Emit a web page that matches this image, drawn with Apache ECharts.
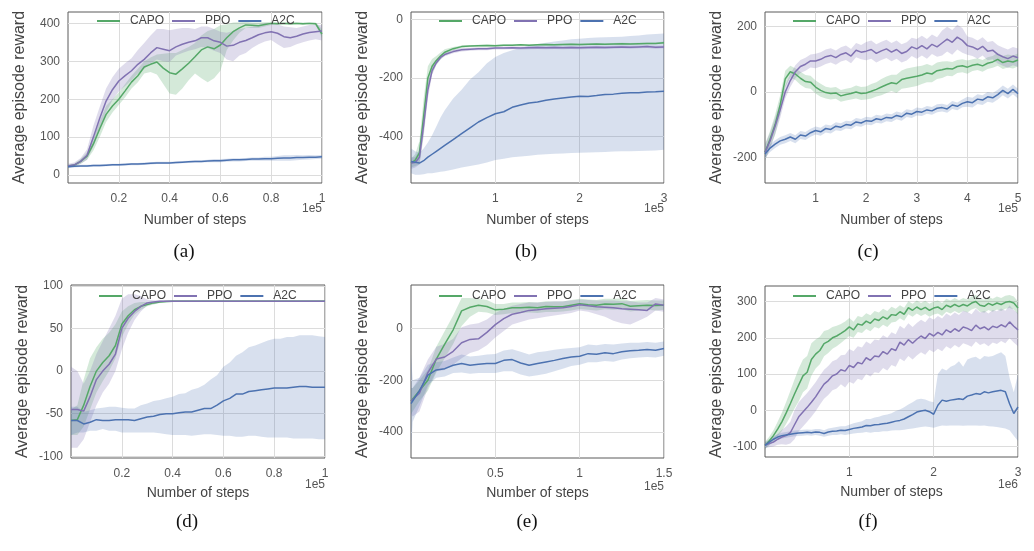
<!DOCTYPE html>
<html><head><meta charset="utf-8">
<script src="https://cdn.jsdelivr.net/npm/echarts@6/dist/echarts.min.js"></script>
<style>html,body{margin:0;padding:0;background:#fff}#c{width:1034px;height:551px}</style>
</head><body><div id="c"></div>
<script>
// ---------- DATA ----------
const seriesNames = ['CAPO', 'PPO', 'A2C'];
const panelCaptions = ['(a)', '(b)', '(c)', '(d)', '(e)', '(f)'];
const xOffsetLabels = ['1e5', '1e5', '1e5', '1e5', '1e5', '1e6'];

// Panel (a)
const stepsA = [0,0.025,0.05,0.075,0.1,0.125,0.15,0.175,0.2,0.225,0.25,0.275,0.3,0.325,0.35,0.375,0.4,0.425,0.45,0.475,0.5,0.525,0.55,0.575,0.6,0.625,0.65,0.675,0.7,0.725,0.75,0.775,0.8,0.825,0.85,0.875,0.9,0.925,0.95,0.975,1];
const capoA = [24,26,36,50,82,122,160,182,200,222,245,262,285,292,298,282,270,266,280,295,312,330,338,333,343,362,378,388,396,395,394,397,400,399,400,399,400,399,400,399,372];
const capoALo = [20,22,30,40,65,100,140,165,185,205,228,245,268,272,265,240,215,212,228,250,268,255,245,255,275,330,355,375,388,388,388,392,396,396,397,396,397,396,397,396,362];
const capoAHi = [28,30,42,60,100,142,182,200,218,240,262,280,300,310,318,320,322,322,330,338,348,368,380,385,395,398,402,403,404,402,402,403,404,403,403,402,403,402,403,402,385];
const ppoA = [24,27,36,52,100,150,195,225,248,262,275,292,305,322,336,332,328,338,345,350,354,362,362,354,350,340,342,350,355,362,370,375,378,374,365,362,366,372,376,378,380];
const ppoALo = [20,22,30,40,75,120,165,198,220,235,250,268,280,295,305,300,298,315,322,328,332,338,335,328,322,305,300,315,322,335,345,352,356,345,335,338,345,350,355,358,355];
const ppoAHi = [30,33,45,68,130,180,228,258,280,295,308,330,348,368,385,385,382,385,388,388,385,392,392,385,378,375,380,385,388,392,396,400,400,398,392,390,388,392,396,397,395];
const a2cA = [22,23,24,24,25,25,26,27,27,28,29,29,30,31,32,32,32,33,34,35,36,36,37,38,38,39,40,40,41,42,42,43,43,44,45,45,46,46,47,47,48];
const a2cALo = [19,20,21,21,22,22,23,24,24,25,26,26,27,28,29,29,29,30,31,32,33,33,34,34,34,35,36,36,37,38,38,38,38,38,38,38,39,40,41,42,43];
const a2cAHi = [25,26,27,27,28,28,29,30,30,31,32,32,33,34,35,35,35,36,37,38,39,39,40,42,42,43,44,44,45,46,46,48,48,50,52,52,53,52,53,52,53];

// Panel (b)
const stepsB = [0,0.05,0.1,0.15,0.2,0.25,0.3,0.35,0.4,0.5,0.6,0.7,0.8,0.9,1.0,1.1,1.2,1.3,1.4,1.5,1.6,1.7,1.8,1.9,2.0,2.1,2.2,2.3,2.4,2.5,2.6,2.7,2.8,2.9,3.0];
const capoB = [-490,-480,-455,-330,-200,-160,-140,-125,-112,-100,-93,-91,-90,-89,-90,-88,-88,-87,-88,-87,-86,-87,-86,-85,-86,-85,-84,-85,-84,-83,-84,-83,-82,-82,-80];
const capoBLo = [-505,-500,-495,-390,-240,-185,-155,-137,-122,-106,-97,-94,-93,-92,-93,-91,-91,-90,-91,-90,-89,-90,-89,-88,-89,-88,-87,-88,-87,-86,-87,-86,-85,-85,-84];
const capoBHi = [-475,-460,-415,-270,-160,-135,-125,-113,-102,-94,-89,-88,-87,-86,-87,-85,-85,-84,-85,-84,-83,-84,-83,-82,-83,-82,-81,-82,-81,-80,-81,-80,-79,-79,-76];
const ppoB = [-490,-488,-470,-360,-240,-175,-148,-130,-120,-110,-104,-102,-100,-100,-98,-98,-97,-98,-97,-96,-97,-96,-97,-96,-97,-96,-95,-96,-95,-94,-95,-94,-93,-95,-94];
const ppoBLo = [-510,-505,-495,-400,-270,-190,-156,-137,-126,-116,-110,-107,-105,-105,-103,-103,-102,-103,-102,-101,-102,-101,-102,-101,-102,-101,-100,-101,-100,-99,-100,-99,-98,-100,-99];
const ppoBHi = [-470,-470,-445,-320,-210,-160,-140,-123,-114,-104,-98,-97,-95,-95,-93,-93,-92,-93,-92,-91,-92,-91,-92,-91,-92,-91,-90,-91,-90,-89,-90,-89,-88,-90,-89];
const a2cB = [-485,-487,-490,-482,-470,-460,-450,-440,-430,-410,-390,-370,-350,-335,-322,-315,-300,-292,-285,-282,-276,-272,-268,-265,-262,-263,-260,-256,-255,-252,-250,-250,-248,-247,-245];
const a2cBLo = [-525,-530,-530,-528,-525,-525,-522,-520,-518,-512,-505,-500,-495,-488,-480,-475,-470,-468,-465,-462,-460,-458,-457,-456,-455,-454,-453,-452,-451,-450,-450,-449,-448,-447,-445];
const a2cBHi = [-440,-450,-455,-440,-420,-395,-365,-335,-310,-270,-240,-205,-180,-150,-128,-115,-105,-98,-90,-84,-80,-76,-72,-68,-66,-64,-62,-61,-60,-59,-57,-55,-52,-50,-48];

// Panel (c)
const stepsC = [0,0.1,0.2,0.3,0.4,0.5,0.6,0.7,0.8,0.9,1,1.1,1.2,1.3,1.4,1.5,1.6,1.7,1.8,1.9,2,2.1,2.2,2.3,2.4,2.5,2.6,2.7,2.8,2.9,3,3.1,3.2,3.3,3.4,3.5,3.6,3.7,3.8,3.9,4,4.1,4.2,4.3,4.4,4.5,4.6,4.7,4.8,4.9,5];
const capoC = [-185,-145,-100,-40,40,62,55,42,32,30,15,5,-2,-5,-3,-12,-8,-5,0,-5,-3,2,8,15,22,28,25,38,42,45,48,52,58,55,65,68,72,70,78,80,76,82,85,80,88,92,100,90,95,92,98];
const capoCLo = [-210,-170,-130,-70,15,44,37,22,12,10,-5,-15,-20,-23,-21,-30,-26,-23,-20,-25,-23,-20,-14,-10,-3,3,-3,10,12,15,18,24,30,30,40,43,50,48,58,60,56,64,67,62,70,74,80,70,75,72,78];
const capoCHi = [-160,-120,-70,-10,65,80,73,62,52,50,35,25,16,13,15,6,10,13,20,15,17,24,30,40,47,53,53,66,72,75,78,80,86,80,90,93,94,92,98,100,96,100,103,98,106,110,120,110,115,112,118];
const ppoC = [-185,-150,-105,-55,0,35,62,78,85,95,95,100,108,112,105,115,120,110,128,122,125,130,118,126,132,122,130,118,124,138,132,142,132,146,138,150,162,152,168,158,142,138,130,140,125,128,115,108,102,110,105];
const ppoCLo = [-210,-175,-130,-80,-20,15,42,58,65,75,73,78,86,90,83,93,98,88,106,100,97,102,90,98,104,94,102,90,96,110,102,112,102,116,108,112,124,114,130,120,114,110,102,112,97,100,87,80,74,82,77];
const ppoCHi = [-160,-125,-80,-30,20,55,82,98,105,115,117,122,130,134,127,137,142,132,150,144,153,158,146,154,160,150,158,146,152,166,162,172,162,176,168,188,200,190,206,196,170,166,158,168,153,156,143,136,130,138,133];
const a2cC = [-190,-172,-160,-150,-145,-138,-145,-132,-135,-125,-118,-122,-112,-115,-105,-108,-100,-102,-92,-95,-88,-90,-82,-85,-78,-80,-72,-76,-65,-68,-60,-62,-55,-58,-50,-48,-52,-40,-44,-35,-30,-33,-22,-25,-15,-18,-8,5,-5,8,-5];
const a2cCLo = [-202,-184,-172,-162,-157,-150,-157,-144,-147,-137,-130,-134,-124,-127,-117,-120,-112,-114,-104,-107,-100,-102,-94,-97,-90,-92,-84,-88,-77,-80,-72,-74,-67,-70,-62,-60,-64,-52,-56,-47,-45,-48,-37,-40,-30,-33,-23,-10,-20,-7,-20];
const a2cCHi = [-178,-160,-148,-138,-133,-126,-133,-120,-123,-113,-106,-110,-100,-103,-93,-96,-88,-90,-80,-83,-76,-78,-70,-73,-66,-68,-60,-64,-53,-56,-48,-50,-43,-46,-38,-36,-40,-28,-32,-23,-15,-18,-7,-10,0,-3,7,20,10,23,10];

// Panel (d)
const stepsD = [0,0.025,0.05,0.075,0.1,0.125,0.15,0.175,0.2,0.225,0.25,0.275,0.3,0.325,0.35,0.375,0.4,0.425,0.45,0.475,0.5,0.525,0.55,0.575,0.6,0.625,0.65,0.675,0.7,0.725,0.75,0.775,0.8,0.825,0.85,0.875,0.9,0.925,0.95,0.975,1];
const capoD = [-58,-57,-40,-18,0,10,18,30,55,65,72,76,78,80,81,81.5,82,82,82,82,82,82,82,82,82,82,82,82,82,82,82,82,82,82,82,82,82,82,82,82,82];
const capoDLo = [-75,-75,-65,-45,-25,-12,0,15,40,55,66,72,76,78,80,80.5,81,81,81,81,81,81,81,81,81,81,81,81,81,81,81,81,81,81,81,81,81,81,81,81,81];
const capoDHi = [-45,-40,-10,15,28,38,45,55,70,76,80,81,81,82,82,82.5,83,83,83,83,83,83,83,83,83,83,83,83,83,83,83,83,83,83,83,83,83,83,83,83,83];
const ppoD = [-45,-45,-47,-30,-10,0,8,20,50,62,70,76,80,81,82,82,82,82,82,82,82,82,82,82,82,82,82,82,82,82,82,82,82,82,82,82,82,82,82,82,82];
const ppoDLo = [-90,-90,-80,-60,-40,-25,-15,0,25,45,60,70,77,79,80.5,81,81,81,81,81,81,81,81,81,81,81,81,81,81,81,81,81,81,81,81,81,81,81,81,81,81];
const ppoDHi = [5,0,-15,0,20,35,50,65,85,90,90,88,84,83,83,83,83,83,83,83,83,83,83,83,83,83,83,83,83,83,83,83,83,83,83,83,83,83,83,83,83];
const a2cD = [-58,-58,-62,-60,-57,-58,-58,-57,-57,-57,-58,-56,-54,-53,-51,-50,-50,-49,-48,-48,-46,-44,-44,-40,-35,-32,-27,-27,-24,-23,-22,-21,-20,-20,-20,-19,-18,-18,-19,-19,-19];
const a2cDLo = [-75,-72,-72,-70,-70,-68,-70,-70,-72,-72,-72,-72,-72,-72,-73,-74,-75,-75,-75,-76,-75,-74,-74,-75,-76,-76,-77,-77,-76,-76,-77,-78,-78,-78,-78,-79,-79,-79,-79,-80,-80];
const a2cDHi = [-42,-42,-48,-46,-44,-43,-42,-42,-43,-44,-44,-40,-38,-35,-34,-32,-30,-27,-26,-22,-20,-16,-10,-5,5,10,18,22,28,30,33,36,38,38,40,40,42,42,42,41,40];

// Panel (e)
const stepsE = [0,0.01,0.05,0.1,0.15,0.2,0.25,0.3,0.35,0.4,0.45,0.5,0.55,0.6,0.65,0.7,0.75,0.8,0.85,0.9,0.95,1,1.05,1.1,1.15,1.2,1.25,1.3,1.35,1.4,1.45,1.5];
const capoE = [-280,-275,-240,-200,-118,-60,-5,68,82,90,85,72,74,80,80,82,80,85,84,84,90,96,92,90,95,94,96,86,88,90,89,90];
const capoELo = [-330,-320,-280,-240,-170,-115,-60,10,45,65,62,52,55,60,60,62,60,64,64,66,70,75,72,70,74,72,74,66,70,72,70,72];
const capoEHi = [-230,-230,-200,-160,-70,-10,50,118,118,115,110,95,95,100,100,102,100,105,104,104,110,115,112,110,115,115,116,106,108,110,108,108];
const ppoE = [-280,-285,-250,-170,-118,-110,-88,-55,-42,-40,-15,15,38,55,62,70,72,76,78,80,85,92,88,84,82,80,76,74,72,70,95,90];
const ppoELo = [-330,-340,-320,-230,-165,-160,-140,-115,-95,-85,-65,-35,-10,15,25,35,40,45,50,55,60,70,65,55,45,30,20,15,30,45,70,65];
const ppoEHi = [-230,-230,-190,-120,-70,-60,-40,5,15,20,35,60,75,88,95,100,100,102,105,105,108,112,110,108,108,108,105,105,100,100,118,112];
const a2cE = [-290,-280,-240,-180,-160,-155,-142,-135,-142,-138,-135,-135,-123,-120,-133,-142,-135,-129,-123,-116,-110,-107,-97,-99,-94,-97,-90,-86,-84,-81,-84,-77];
const a2cELo = [-470,-360,-300,-220,-190,-185,-172,-170,-175,-172,-172,-172,-165,-165,-178,-185,-180,-175,-165,-155,-145,-140,-130,-130,-125,-128,-120,-115,-112,-110,-112,-105];
const a2cEHi = [-100,-200,-190,-140,-130,-125,-112,-100,-108,-105,-100,-98,-85,-80,-90,-100,-92,-88,-82,-78,-75,-72,-62,-65,-60,-62,-58,-55,-55,-52,-55,-50];

// Panel (f)
const stepsF = [0,0.05,0.1,0.15,0.2,0.25,0.3,0.35,0.4,0.45,0.5,0.55,0.6,0.65,0.7,0.75,0.8,0.85,0.9,0.95,1,1.05,1.1,1.15,1.2,1.25,1.3,1.35,1.4,1.45,1.5,1.55,1.6,1.65,1.7,1.75,1.8,1.85,1.9,1.95,2,2.05,2.1,2.15,2.2,2.25,2.3,2.35,2.4,2.45,2.5,2.55,2.6,2.65,2.7,2.75,2.8,2.85,2.9,2.95,3];
const capoF = [-97,-85,-70,-52,-32,-8,18,45,70,95,105,140,155,165,184,190,200,205,212,220,230,222,238,235,246,240,252,248,258,252,264,262,272,265,283,276,285,278,284,276,282,285,278,290,285,292,286,292,288,296,300,290,287,295,290,296,292,298,300,296,282];
const capoFLo = [-107,-97,-85,-72,-57,-38,-17,5,25,50,60,95,115,127,149,158,170,177,186,195,205,200,216,213,224,218,230,226,236,230,242,244,254,247,265,258,267,260,266,258,264,267,260,272,267,274,268,274,270,278,282,272,269,277,272,278,274,280,282,278,264];
const capoFHi = [-87,-73,-55,-32,-7,22,53,85,115,140,150,185,195,203,219,222,230,233,238,245,255,244,260,257,268,262,274,270,280,274,286,280,290,283,301,294,303,296,302,294,300,303,296,308,303,310,304,310,306,314,318,308,305,313,308,314,310,316,318,314,300];
const ppoF = [-97,-92,-88,-80,-74,-70,-62,-40,-18,-5,8,22,37,55,72,82,95,100,112,108,124,118,132,128,145,138,150,148,162,155,170,165,188,180,195,185,196,205,198,212,205,215,208,222,215,225,218,230,226,220,235,225,230,222,232,228,236,230,244,232,222];
const ppoFLo = [-105,-102,-100,-95,-94,-95,-92,-80,-58,-45,-32,-18,-3,15,32,42,55,60,72,63,79,73,87,83,100,93,105,103,117,110,125,120,143,135,150,140,151,160,153,167,160,170,163,177,170,180,173,185,181,175,190,180,185,177,187,183,191,185,199,187,177];
const ppoFHi = [-89,-82,-76,-65,-54,-45,-32,0,22,35,48,62,77,95,112,122,135,140,152,153,169,163,177,173,190,183,195,193,207,200,215,210,233,225,240,230,241,250,243,257,250,260,253,267,260,270,263,275,271,265,280,270,275,267,277,273,281,275,289,277,267];
const a2cF = [-97,-88,-80,-74,-70,-68,-66,-64,-63,-62,-61,-62,-60,-61,-64,-60,-58,-57,-55,-56,-53,-50,-48,-46,-42,-43,-40,-39,-37,-36,-33,-30,-28,-24,-18,-12,-5,-2,0,-4,-11,14,28,25,28,30,32,30,39,42,46,44,51,48,51,53,55,51,18,-9,9];
const a2cFLo = [-105,-96,-88,-82,-78,-76,-74,-72,-71,-70,-69,-70,-68,-70,-73,-70,-68,-68,-66,-68,-66,-64,-63,-62,-60,-62,-60,-60,-58,-58,-56,-55,-55,-54,-52,-50,-48,-46,-45,-46,-48,-45,-42,-43,-42,-42,-42,-43,-42,-42,-42,-43,-42,-44,-45,-46,-48,-50,-55,-70,-85];
const a2cFHi = [-89,-80,-72,-66,-62,-60,-58,-56,-55,-54,-53,-54,-52,-52,-55,-50,-48,-46,-44,-44,-40,-36,-33,-30,-24,-24,-20,-18,-14,-12,-8,-2,2,8,16,22,30,32,30,25,22,100,115,110,120,125,135,120,140,145,148,140,150,148,150,155,160,150,90,50,100];

// Tick values
const xTicksA = [0.2,0.4,0.6,0.8,1];
const xTicksB = [1,2,3];
const xTicksC = [1,2,3,4,5];
const xTicksD = [0.2,0.4,0.6,0.8,1];
const xTicksE = [0.5,1,1.5];
const xTicksF = [1,2,3];
const yTicksA = [0,100,200,300,400];
const yTicksB = [-400,-200,0];
const yTicksC = [-200,0,200];
const yTicksD = [-100,-50,0,50,100];
const yTicksE = [-400,-200,0];
const yTicksF = [-100,0,100,200,300];

// ---------- LAYOUT / STYLE ----------
const colors = {CAPO: '#55A868', PPO: '#8172B2', A2C: '#4C72B0'};
const bandColors = {CAPO: 'rgba(85,168,104,0.25)', PPO: 'rgba(129,114,178,0.25)', A2C: 'rgba(76,114,176,0.22)'};

const panels = [
  {steps: stepsA, d: {CAPO: [capoA, capoALo, capoAHi], PPO: [ppoA, ppoALo, ppoAHi], A2C: [a2cA, a2cALo, a2cAHi]},
   xr: [0, 1], yr: [-21, 430], xt: xTicksA, yt: yTicksA,
   grid: {left: 68, top: 12, width: 254, height: 171}, legendLeft: 97, legendTop: 15, nameGap: 30,
   off: [322, 209], cap: [184, 252]},
  {steps: stepsB, d: {CAPO: [capoB, capoBLo, capoBHi], PPO: [ppoB, ppoBLo, ppoBHi], A2C: [a2cB, a2cBLo, a2cBHi]},
   xr: [0, 3], yr: [-558, 25], xt: xTicksB, yt: yTicksB,
   grid: {left: 411, top: 12, width: 253, height: 171}, legendLeft: 439, legendTop: 15, nameGap: 30,
   off: [664, 209], cap: [526, 252]},
  {steps: stepsC, d: {CAPO: [capoC, capoCLo, capoCHi], PPO: [ppoC, ppoCLo, ppoCHi], A2C: [a2cC, a2cCLo, a2cCHi]},
   xr: [0, 5], yr: [-279, 245], xt: xTicksC, yt: yTicksC,
   grid: {left: 765, top: 12, width: 253, height: 171}, legendLeft: 793, legendTop: 15, nameGap: 30,
   off: [1018, 209], cap: [868, 252]},
  {steps: stepsD, d: {CAPO: [capoD, capoDLo, capoDHi], PPO: [ppoD, ppoDLo, ppoDHi], A2C: [a2cD, a2cDLo, a2cDHi]},
   xr: [0, 1], yr: [-102, 101], xt: xTicksD, yt: yTicksD,
   grid: {left: 71, top: 285, width: 254, height: 173}, legendLeft: 99, legendTop: 290, nameGap: 28,
   off: [325, 485], cap: [187, 522]},
  {steps: stepsE, d: {CAPO: [capoE, capoELo, capoEHi], PPO: [ppoE, ppoELo, ppoEHi], A2C: [a2cE, a2cELo, a2cEHi]},
   xr: [0, 1.5], yr: [-500, 168], xt: xTicksE, yt: yTicksE,
   grid: {left: 411, top: 285, width: 253, height: 173}, legendLeft: 439, legendTop: 290, nameGap: 28,
   off: [664, 487], cap: [527, 522]},
  {steps: stepsF, d: {CAPO: [capoF, capoFLo, capoFHi], PPO: [ppoF, ppoFLo, ppoFHi], A2C: [a2cF, a2cFLo, a2cFHi]},
   xr: [0, 3], yr: [-129, 343], xt: xTicksF, yt: yTicksF,
   grid: {left: 765, top: 286, width: 253, height: 171}, legendLeft: 793, legendTop: 290, nameGap: 28,
   off: [1018, 485], cap: [868, 522]}
];

const FONT = '"Liberation Sans", Arial, Helvetica, sans-serif';
const grids = [], xAxes = [], yAxes = [], legends = [], series = [], graphics = [];

function bandSeries(i, name, steps, lo, hi) {
  return {
    type: 'custom', name: name + ' band', xAxisIndex: i, yAxisIndex: i, silent: true, z: 1,
    data: steps.map((x, k) => [x, lo[k], hi[k]]),
    encode: {x: 0, y: [1, 2]},
    renderItem: function (params, api) {
      if (params.dataIndex !== 0) return null;
      const pts = [];
      for (let k = 0; k < steps.length; k++) pts.push(api.coord([steps[k], hi[k]]));
      for (let k = steps.length - 1; k >= 0; k--) pts.push(api.coord([steps[k], lo[k]]));
      return {type: 'polygon', shape: {points: pts}, style: {fill: bandColors[name], stroke: null}};
    }
  };
}

panels.forEach((p, i) => {
  grids.push(Object.assign({show: true, borderColor: '#5a5a5a', borderWidth: 1, backgroundColor: 'transparent', containLabel: false}, p.grid));
  xAxes.push({
    type: 'value', gridIndex: i, min: p.xr[0], max: p.xr[1],
    name: 'Number of steps', nameLocation: 'middle', nameGap: p.nameGap,
    nameTextStyle: {fontSize: 14, color: '#444', fontFamily: FONT},
    axisLine: {show: false}, axisTick: {show: false, customValues: p.xt},
    axisLabel: {customValues: p.xt, fontSize: 12, color: '#555', margin: 10, fontFamily: FONT},
    splitLine: {show: true, lineStyle: {color: '#dcdcdc', width: 1}}
  });
  yAxes.push({
    type: 'value', gridIndex: i, min: p.yr[0], max: p.yr[1],
    name: 'Average episode reward', nameLocation: 'middle', nameGap: 40, nameRotate: 90,
    nameTextStyle: {fontSize: 16, color: '#444', fontFamily: FONT},
    axisLine: {show: false}, axisTick: {show: false, customValues: p.yt},
    axisLabel: {customValues: p.yt, fontSize: 12, color: '#555', margin: 8, fontFamily: FONT},
    splitLine: {show: true, lineStyle: {color: '#dcdcdc', width: 1}}
  });
  legends.push({
    data: seriesNames, left: p.legendLeft, top: p.legendTop, padding: 0, itemGap: 8,
    itemWidth: 23, itemHeight: 2, icon: 'rect', orient: 'horizontal',
    textStyle: {fontSize: 12, color: '#444', fontFamily: FONT, padding: [0, 0, 0, 5]},
    selectedMode: false
  });
  seriesNames.forEach(n => {
    series.push(bandSeries(i, n, p.steps, p.d[n][1], p.d[n][2]));
  });
  seriesNames.forEach(n => {
    series.push({
      type: 'line', name: n, xAxisIndex: i, yAxisIndex: i, z: 3,
      data: p.steps.map((x, k) => [x, p.d[n][0][k]]),
      symbol: 'none', showSymbol: false, smooth: false,
      lineStyle: {color: colors[n], width: 1.5}, itemStyle: {color: colors[n]},
      emphasis: {disabled: true}
    });
  });
  graphics.push({
    type: 'text', x: p.off[0], y: p.off[1], silent: true,
    style: {text: xOffsetLabels[i], fill: '#555', font: '12px ' + FONT, textAlign: 'right', textVerticalAlign: 'middle'}
  });
  graphics.push({
    type: 'text', x: p.cap[0], y: p.cap[1], silent: true,
    style: {text: panelCaptions[i], fill: '#111', font: '19px "Liberation Serif", "Times New Roman", serif', textAlign: 'center', textVerticalAlign: 'middle'}
  });
});

const chart = echarts.init(document.getElementById('c'), null, {renderer: 'canvas'});
chart.setOption({
  animation: false,
  backgroundColor: '#ffffff',
  textStyle: {fontFamily: FONT},
  grid: grids, xAxis: xAxes, yAxis: yAxes, legend: legends,
  series: series, graphic: graphics
});
</script>
</body></html>
